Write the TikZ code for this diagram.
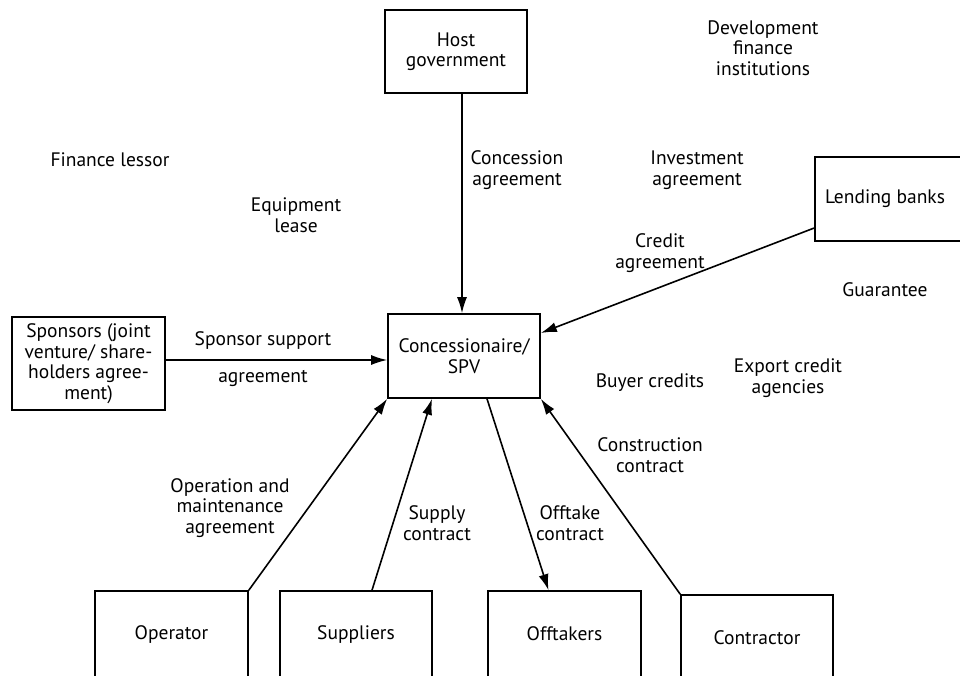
\documentclass[tikz,border=0pt]{standalone}
\usepackage{fontspec}
\setmainfont{PT Sans}
\usetikzlibrary{arrows.meta}

\tikzset{
  box/.style={draw, line width=1.6pt, align=center, inner sep=2pt,
    font=\fontsize{19.5}{20.5}\selectfont},
  lbl/.style={align=center, inner sep=1pt, font=\fontsize{19.5}{20.5}\selectfont},
  arr/.style={line width=1.6pt, -{Latex[length=16pt, width=10pt]}}
}

\begin{document}
\begin{tikzpicture}[x=1pt, y=-1pt]
\useasboundingbox (0,0) rectangle (960,675);

% parties
\node[box, minimum width=142pt, minimum height=83pt] (gov) at (456,51.5) {Host\\government};
\node[box, minimum width=153pt, minimum height=93pt] (spon) at (88.5,363.5)
  {Sponsors (joint\\venture/ share-\\holders agree-\\ment)};
\node[box, minimum width=152pt, minimum height=84pt] (con) at (464,356) {Concessionaire/\\SPV};
% runs off the right page edge; text kept left of the box centre
\node[box, minimum width=166pt, minimum height=84pt] (lend) at (898,199)
  {Lending banks\hspace*{26pt}};

% lower parties, running off the page bottom
\node[box, minimum width=153pt, minimum height=86pt] (op) at (171.5,634) {Operator};
\node[box, minimum width=152pt, minimum height=86pt] (sup) at (356,634) {Suppliers};
\node[box, minimum width=153pt, minimum height=86pt] (off) at (564.5,634) {Offtakers};
\node[box, minimum width=152pt, minimum height=86pt] (ctr) at (757,638) {Contractor};

% free labels
\node[lbl] (dfi) at (763,48) {Development\\finance\\institutions};
\node[lbl] (lessor) at (110,160) {Finance lessor};
\node[lbl] (conc) at (517,170) {Concession\\agreement};
\node[lbl] (inv) at (697,170) {Investment\\agreement};
\node[lbl] (equip) at (296,215) {Equipment\\lease};
\node[lbl] (credit) at (660,253) {Credit\\agreement};
\node[lbl] (guar) at (885,290) {Guarantee};
\node[lbl] (ssa1) at (263,341) {Sponsor support};
\node[lbl] (ssa2) at (263,378) {agreement};
\node[lbl] (buyer) at (650,383) {Buyer credits};
\node[lbl] (eca) at (788,378) {Export credit\\agencies};
\node[lbl] (cons) at (650,455) {Construction\\contract};
\node[lbl] (om) at (230,508) {Operation and\\maintenance\\agreement};
\node[lbl] (supc) at (437,523) {Supply\\contract};
\node[lbl] (offc) at (570,523) {Offtake\\contract};

% contractual links
\draw[arr] ([xshift=-2pt]con.north |- gov.south) -- ([xshift=-2pt]con.north);
\draw[arr] ([yshift=3.5pt]spon.east) -- ([yshift=3.5pt]spon.east -| con.west);
\draw[arr] ([yshift=-29pt]lend.west) -- ([yshift=23pt]con.east);
\draw[arr] (op.north east) -- (con.south west);
\draw[arr] ([xshift=16pt]sup.north) -- ([xshift=-32pt]con.south);
\draw[arr] ([xshift=23pt]con.south) -- ([xshift=-16pt]off.north);
\draw[arr] (ctr.north west) -- (con.south east);
\end{tikzpicture}
\end{document}
